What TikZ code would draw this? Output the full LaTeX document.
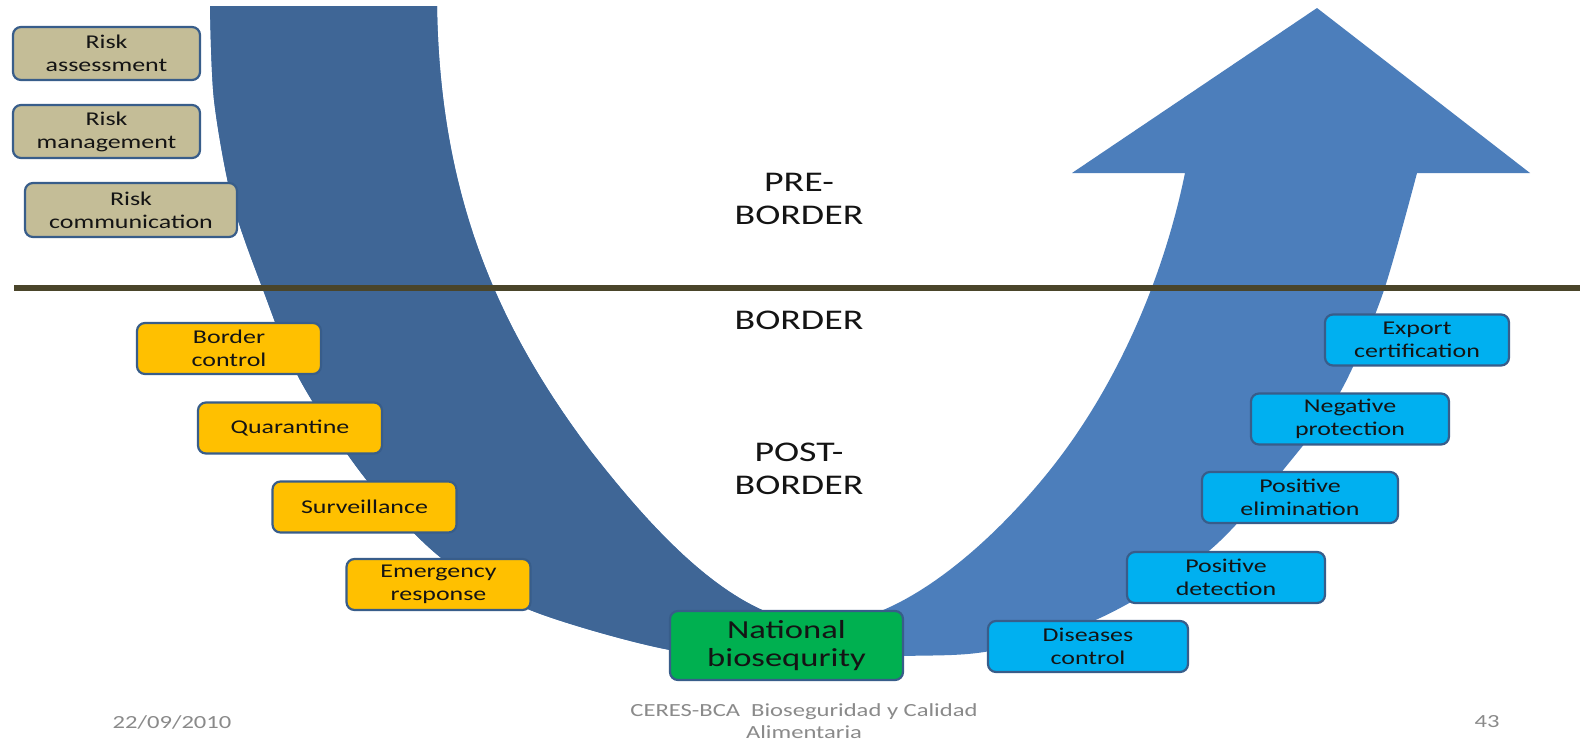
\documentclass[tikz,border=0pt]{standalone}
\usepackage{fontspec}
\setmainfont{Carlito}[FakeStretch=1.33]
\definecolor{armdark}{HTML}{3F6696}
\definecolor{armlight}{HTML}{4C7EBB}
\definecolor{rule}{HTML}{4A452A}
\definecolor{boxline}{HTML}{385D8A}
\definecolor{tanfill}{HTML}{C4BD97}
\definecolor{orangefill}{HTML}{FFC000}
\definecolor{bluefill}{HTML}{00B0F0}
\definecolor{greenfill}{HTML}{00B050}
\definecolor{textdark}{HTML}{141414}
\definecolor{footgray}{HTML}{8A8A8A}
% outline of the U-turn arrow (pixel-like units, y pointing down)
\newcommand{\uturnoutline}{%
  plot[smooth, tension=0.5] coordinates {(210,6) (214,100) (232,200) (262,287) (300,380)
    (365,478) (440,557) (530,610) (670,650) (785,657) (903,656) (990,651) (1100,618)
    (1210,550) (1297,453) (1343,387) (1383,293) (1417,173)}
  -- (1530,173) -- (1317,8) -- (1072,173) -- (1185,173)
  .. controls (1161,290) and (1110,395) .. (1050,470)
  .. controls (990,545) and (900,624) .. (822,624)
  .. controls (740,624) and (660,540) .. (590,450)
  .. controls (500,330) and (440,200) .. (437,6)
  -- cycle}
\begin{document}
\begin{tikzpicture}[x=1pt,y=-1pt,
  box/.style={draw=boxline, line width=2.2pt, rounded corners=8pt, align=center,
    inner sep=0pt, text=textdark, font=\fontsize{19.5}{23}\selectfont},
  riskbox/.style={box, fill=tanfill},
  borderbox/.style={box, fill=orangefill, minimum width=184, minimum height=51},
  exportbox/.style={box, fill=bluefill, minimum height=51},
  zonelabel/.style={align=center, inner sep=0pt, text=textdark,
    font=\fontsize{28.5}{33}\selectfont},
  footer/.style={inner sep=0pt, text=footgray, font=\fontsize{18.5}{22}\selectfont, align=center}]
\useasboundingbox (0,0) rectangle (1580,742);
\fill[white] (0,0) rectangle (1580,742);

% U-turn arrow: light overall, darker on the descending arm
\fill[armlight] \uturnoutline;
\begin{scope}
  \clip (0,0) rectangle (790,742);
  \fill[armdark] \uturnoutline;
\end{scope}

% border line
\coordinate (lineL) at (14,288);
\coordinate (lineR) at (1580,288);
\draw[rule, line width=6pt] (lineL) -- (lineR);

% zone labels
\node[zonelabel] (pre) at (799,199) {PRE-\\BORDER};
\node[zonelabel] (bord) at (799,320) {BORDER};
\node[zonelabel] (post) at (799,469) {POST-\\BORDER};

% pre-border boxes
\node[riskbox, minimum width=187, minimum height=53] (assess) at (106.5,53.5) {Risk\\assessment};
\node[riskbox, minimum width=187, minimum height=53] (manage) at (106.5,131.5) {Risk\\management};
\node[riskbox, minimum width=212, minimum height=54] (comm) at (131,210) {Risk\\communication};

% border / post-border boxes
\node[borderbox] (control) at (229,348.5) {Border\\control};
\node[borderbox] (quar) at (290,428) {Quarantine};
\node[borderbox] (surv) at (364.5,507) {Surveillance};
\node[borderbox] (emerg) at (438.5,584.5) {Emergency\\response};

% national biosecurity
\node[box, fill=greenfill, minimum width=233, minimum height=69,
  font=\fontsize{26}{28}\selectfont] (nat) at (786.5,645.5) {National\\biosequrity};

% export-side boxes
\node[exportbox, minimum width=200] (dis) at (1088,646.5) {Diseases\\control};
\node[exportbox, minimum width=198] (det) at (1226,577.5) {Positive\\detection};
\node[exportbox, minimum width=196] (elim) at (1300,497.5) {Positive\\elimination};
\node[exportbox, minimum width=198] (neg) at (1350,419) {Negative\\protection};
\node[exportbox, minimum width=184] (exp) at (1417,340) {Export\\certification};

% footer
\node[footer, anchor=base] (date) at (172,728) {22/09/2010};
\node[footer, anchor=base] (src) at (804,716) {CERES-BCA\ \ Bioseguridad y Calidad};
\node[footer, anchor=base] (src2) at (804,738) {Alimentaria};
\node[footer, anchor=base] (page) at (1487,727) {43};
\end{tikzpicture}
\end{document}
